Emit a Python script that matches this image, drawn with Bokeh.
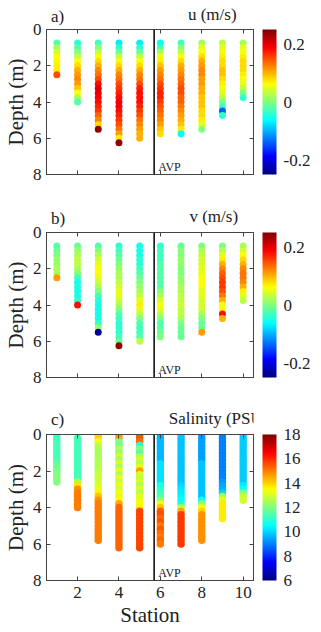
import numpy as np
from bokeh.plotting import figure
from bokeh.models import (Range1d, LinearColorMapper, ColorBar, FixedTicker, Label,
                          Span, LinearAxis, ColumnDataSource)
from bokeh.core.properties import value
from bokeh.layouts import column
from bokeh.embed import file_html
from bokeh.resources import INLINE

# ---------------- data ----------------
stations = [1, 2, 3, 4, 5, 6, 7, 8, 9, 10]
avp_x = 5.7

adcp_top = 0.75     # first bin depth (m)
adcp_step = 0.25    # bin size (m)

u_profiles = [
    [-0.02, 0.02, 0.04, 0.06, 0.065, 0.07, 0.07, 0.15],
    [-0.04, -0.02, 0.0, 0.03, 0.06, 0.08, 0.10, 0.11, 0.12, 0.11, 0.09, 0.06, 0.02, -0.02],
    [-0.03, 0.0, 0.03, 0.06, 0.08, 0.10, 0.12, 0.13, 0.15, 0.18, 0.20, 0.20, 0.19, 0.18, 0.17, 0.16, 0.14, 0.12, 0.08, 0.24],
    [-0.07, -0.04, -0.01, 0.03, 0.06, 0.08, 0.10, 0.12, 0.13, 0.15, 0.16, 0.17, 0.18, 0.19, 0.19, 0.18, 0.17, 0.16, 0.15, 0.13, 0.11, 0.07, 0.24],
    [-0.07, -0.04, -0.01, 0.03, 0.06, 0.08, 0.10, 0.12, 0.13, 0.15, 0.17, 0.18, 0.18, 0.18, 0.17, 0.16, 0.15, 0.13, 0.12, 0.11, 0.10, 0.10],
    [-0.06, -0.03, 0.02, 0.05, 0.07, 0.09, 0.11, 0.12, 0.13, 0.15, 0.16, 0.17, 0.17, 0.16, 0.15, 0.14, 0.13, 0.12, 0.11, 0.09, 0.08],
    [-0.03, 0.0, 0.03, 0.06, 0.08, 0.10, 0.11, 0.12, 0.13, 0.14, 0.15, 0.15, 0.14, 0.14, 0.13, 0.12, 0.11, 0.10, 0.09, 0.07, -0.06],
    [0.02, 0.05, 0.06, 0.08, 0.10, 0.11, 0.12, 0.12, 0.11, 0.11, 0.10, 0.10, 0.09, 0.09, 0.09, 0.08, 0.08, 0.07, 0.05, 0.0],
    [0.03, 0.05, 0.06, 0.07, 0.08, 0.08, 0.09, 0.09, 0.08, 0.07, 0.06, 0.05, 0.03, 0.0, -0.03, -0.14, -0.04],
    [0.02, 0.05, 0.06, 0.07, 0.08, 0.08, 0.08, 0.07, 0.06, 0.05, 0.03, 0.0, -0.04],
]

v_profiles = [
    [-0.02, -0.01, 0.0, 0.01, 0.01, 0.02, 0.02, 0.11],
    [-0.01, 0.01, 0.02, 0.03, 0.03, 0.02, 0.0, -0.03, -0.05, -0.05, -0.05, -0.05, -0.04, 0.18],
    [-0.02, 0.0, 0.02, 0.04, 0.05, 0.06, 0.06, 0.05, 0.04, 0.02, 0.0, -0.03, -0.04, -0.05, -0.05, -0.05, -0.05, -0.04, 0.01, -0.24],
    [-0.04, -0.03, -0.02, -0.01, 0.0, 0.01, 0.02, 0.02, 0.03, 0.04, 0.05, 0.05, 0.04, 0.02, 0.0, -0.02, -0.03, -0.04, -0.04, -0.04, -0.03, -0.01, 0.24],
    [-0.05, -0.05, -0.05, -0.04, -0.04, -0.03, -0.02, -0.01, 0.0, 0.01, 0.02, 0.03, 0.05, 0.07, 0.05, 0.03, 0.0, -0.02, -0.03, -0.03, -0.02, 0.03],
    [-0.04, -0.03, -0.03, -0.03, -0.02, -0.02, -0.02, -0.02, -0.02, -0.02, 0.0, 0.02, 0.04, 0.06, 0.05, 0.03, 0.0, -0.02, -0.02, -0.01, 0.0],
    [-0.01, 0.0, 0.0, 0.01, 0.01, 0.0, 0.0, 0.01, 0.01, 0.02, 0.02, 0.03, 0.03, 0.04, 0.03, 0.03, 0.02, 0.0, -0.01, -0.01, -0.01],
    [0.0, 0.02, 0.03, 0.04, 0.04, 0.05, 0.05, 0.06, 0.06, 0.06, 0.05, 0.05, 0.04, 0.04, 0.04, 0.02, 0.0, -0.01, -0.01, 0.11],
    [0.0, 0.02, 0.05, 0.07, 0.10, 0.12, 0.14, 0.15, 0.16, 0.16, 0.15, 0.13, 0.10, 0.06, 0.06, 0.18, 0.10],
    [0.02, 0.04, 0.06, 0.08, 0.10, 0.12, 0.13, 0.13, 0.12, 0.10, 0.07, 0.05, 0.03],
]

sal_top = [0.0, 0.2, 0.0, 0.0, 0.0, 0.0, 0.0, 0.0, 0.0, 0.0]
sal_step = 0.2
sal_profiles = [
    [11.2, 11.2, 11.3, 11.3, 11.3, 11.3, 11.3, 11.4, 11.6, 11.8, 11.9, 12.0, 12.0, 12.0],
    [11.3] * 12 + [12.6, 13.8, 14.8] + [15.0] * 5,
    [14.2, 14.0, 13.4, 12.8, 12.6, 12.5, 12.5, 12.5, 12.6, 12.6, 12.7, 12.8, 12.8, 12.9, 13.0,
     13.2, 13.6, 14.2, 14.8] + [15.0] * 11,
    [15.0, 14.6, 12.0, 11.8, 12.6, 12.2, 13.0, 12.4, 13.1, 12.5, 13.2, 12.6, 13.2, 12.8, 13.3,
     13.0, 13.4, 13.2, 13.5, 14.5] + [15.3] * 12,
    [15.6, 15.5, 15.2, 11.0, 12.2, 11.4, 12.6, 13.0, 12.6, 13.2, 14.6, 13.0, 12.8, 13.0, 12.6,
     13.0, 12.7, 13.1, 13.2, 13.4, 13.6] + [15.7] * 11,
    [9.7] * 8 + [10.2] * 6 + [10.8, 11.0, 11.2, 11.4, 12.0, 13.4, 14.2]
    + [15.4, 15.6, 15.2, 15.6, 15.0, 15.5, 15.2, 15.0, 15.3, 15.0],
    [9.8] * 14 + [10.0, 10.2, 10.3, 10.4, 10.5, 10.8, 12.6, 14.5] + [15.8] * 9,
    [9.4] * 8 + [9.8] * 10 + [10.6, 12.0, 13.4, 14.0] + [14.8] * 8,
    [9.0] * 13 + [9.3, 9.5, 9.6, 10.0, 12.4, 13.2] + [13.7] * 5,
    [9.9] * 14 + [10.3, 10.6, 12.0, 12.8, 13.0],
]

depth_ticks = [0, 2, 4, 6, 8]
station_ticks = [2, 4, 6, 8, 10]
u_ticks = [-0.2, 0, 0.2]
sal_ticks = [6, 8, 10, 12, 14, 16, 18]

# ---------------- style ----------------
FONT = "Liberation Serif"
AX = "#444444"
TXT = "#222222"
OVERLAP = 12
LEFT = 40


def jet(n=256):
    cols = []
    for i in range(n):
        t = i / (n - 1)
        r = min(max(1.5 - abs(4 * t - 3), 0), 1)
        g = min(max(1.5 - abs(4 * t - 2), 0), 1)
        b = min(max(1.5 - abs(4 * t - 1), 0), 1)
        cols.append("#%02x%02x%02x" % (int(r * 255), int(g * 255), int(b * 255)))
    return cols


JET = jet()


def tick_only_axis(ticks):
    return LinearAxis(ticker=FixedTicker(ticks=ticks),
                      major_label_overrides={t: "" for t in ticks},
                      major_tick_in=4, major_tick_out=0, minor_tick_line_color=None,
                      axis_line_color=AX, major_tick_line_color=AX, major_label_standoff=0)


def make_header(h, letter, letter_bottom, title, title_left, title_bottom):
    """Strip above a panel holding the panel letter and the colour-bar title."""
    p = figure(width=321, height=h, x_range=Range1d(0, 321 - LEFT), y_range=Range1d(h, 0),
               x_axis_location=None, y_axis_location=None,
               output_backend="svg", toolbar_location=None,
               min_border_left=LEFT, min_border_right=0, min_border_top=0, min_border_bottom=0)
    p.grid.visible = False
    p.outline_line_color = None
    p.border_fill_color = None
    p.background_fill_color = None
    p.text(x=[6, title_left], y=[letter_bottom, title_bottom], text=[letter, title],
           text_font=value(FONT), text_font_size="17px", text_color=TXT,
           text_baseline="bottom", text_align="left")
    return p


def make_panel(profiles, tops, step, low, high, cticks, clabels,
               height, btop, fheight, bbot, last, msize):
    xs, ys, vals = [], [], []
    for s, top, prof in zip(stations, tops, profiles):
        for i, v in enumerate(prof):
            xs.append(s)
            ys.append(top + i * step)
            vals.append(v)
    src = ColumnDataSource(dict(x=xs, y=ys, val=vals))
    mapper = LinearColorMapper(palette=JET, low=low, high=high)

    p = figure(width=321, height=height, x_range=Range1d(0.5, 10.5), y_range=Range1d(8, 0),
               output_backend="svg", toolbar_location=None,
               min_border_left=LEFT, min_border_right=68, min_border_top=btop,
               min_border_bottom=bbot, margin=(-OVERLAP, 0, 0, 0))
    p.grid.visible = False
    p.outline_line_color = AX
    p.border_fill_color = None
    p.background_fill_color = "white"

    p.scatter("x", "y", source=src, size=msize, marker="circle",
              fill_color={"field": "val", "transform": mapper}, line_color=None)

    p.add_layout(Span(location=avp_x, dimension="height", line_color="#111111", line_width=1.6))

    p.yaxis.ticker = FixedTicker(ticks=depth_ticks)
    p.yaxis.axis_label = "Depth (m)"
    p.yaxis.axis_label_text_font = FONT
    p.yaxis.axis_label_text_font_style = "normal"
    p.yaxis.axis_label_text_font_size = "21px"
    p.yaxis.axis_label_standoff = 2
    p.yaxis.major_label_text_font = FONT
    p.yaxis.major_label_text_font_size = "17px"
    p.yaxis.major_label_standoff = 5
    p.xaxis.ticker = FixedTicker(ticks=station_ticks)
    for ax in (p.xaxis[0], p.yaxis[0]):
        ax.axis_line_color = AX
        ax.major_tick_line_color = AX
        ax.major_tick_in = 4
        ax.major_tick_out = 0
        ax.minor_tick_line_color = None
        ax.major_label_text_color = TXT
        ax.axis_label_text_color = TXT
    if last:
        p.xaxis.axis_label = "Station"
        p.xaxis.axis_label_text_font = FONT
        p.xaxis.axis_label_text_font_style = "normal"
        p.xaxis.axis_label_text_font_size = "21px"
        p.xaxis.axis_label_standoff = 2
        p.xaxis.major_label_text_font = FONT
        p.xaxis.major_label_text_font_size = "17px"
        p.xaxis.major_label_standoff = 6
    else:
        p.xaxis.major_label_overrides = {t: "" for t in station_ticks}
        p.xaxis.major_label_standoff = 0

    p.add_layout(tick_only_axis(station_ticks), "above")
    p.add_layout(tick_only_axis(depth_ticks), "right")

    cb = ColorBar(color_mapper=mapper, width=14, height=fheight, padding=0, margin=0,
                  ticker=FixedTicker(ticks=cticks),
                  major_label_overrides=clabels,
                  major_label_text_font=FONT, major_label_text_font_size="17px",
                  major_label_text_color=TXT, background_fill_color=None,
                  major_tick_line_color=None, minor_tick_line_color=None,
                  bar_line_color=None, label_standoff=7, location=(9, 0))
    p.add_layout(cb, "right")

    p.add_layout(Label(x=5.9, y=7.6, text="AVP", text_font=FONT, text_font_size="12px",
                       text_baseline="alphabetic", text_color=TXT))
    return p


vel_labels = {-0.2: "-0.2", 0: "0", 0.2: "0.2"}
sal_labels = {t: str(t) for t in sal_ticks}

# header heights + panel (top border - overlap) place the frames at y = 29, 232, 434
ha = make_header(26, "a)", 25, "u (m/s)", 192, 23)
pa = make_panel(u_profiles, [adcp_top] * 10, adcp_step, -0.25, 0.25,
                u_ticks, vel_labels, 15 + 145 + 26, 15, 145, 26, False, 7)
hb = make_header(29, "b)", 27, "v (m/s)", 194, 25)
pb = make_panel(v_profiles, [adcp_top] * 10, adcp_step, -0.25, 0.25,
                u_ticks, vel_labels, 15 + 145 + 28, 15, 145, 28, False, 7)
hc = make_header(26, "c)", 23, "Salinity (PSU)", 166, 22)
pc = make_panel(sal_profiles, sal_top, sal_step, 6, 18,
                sal_ticks, sal_labels, 15 + 146 + 52, 15, 146, 52, True, 7.5)

layout = column(ha, pa, hb, pb, hc, pc, spacing=0)
open("out.html", "w").write(file_html(layout, INLINE))
